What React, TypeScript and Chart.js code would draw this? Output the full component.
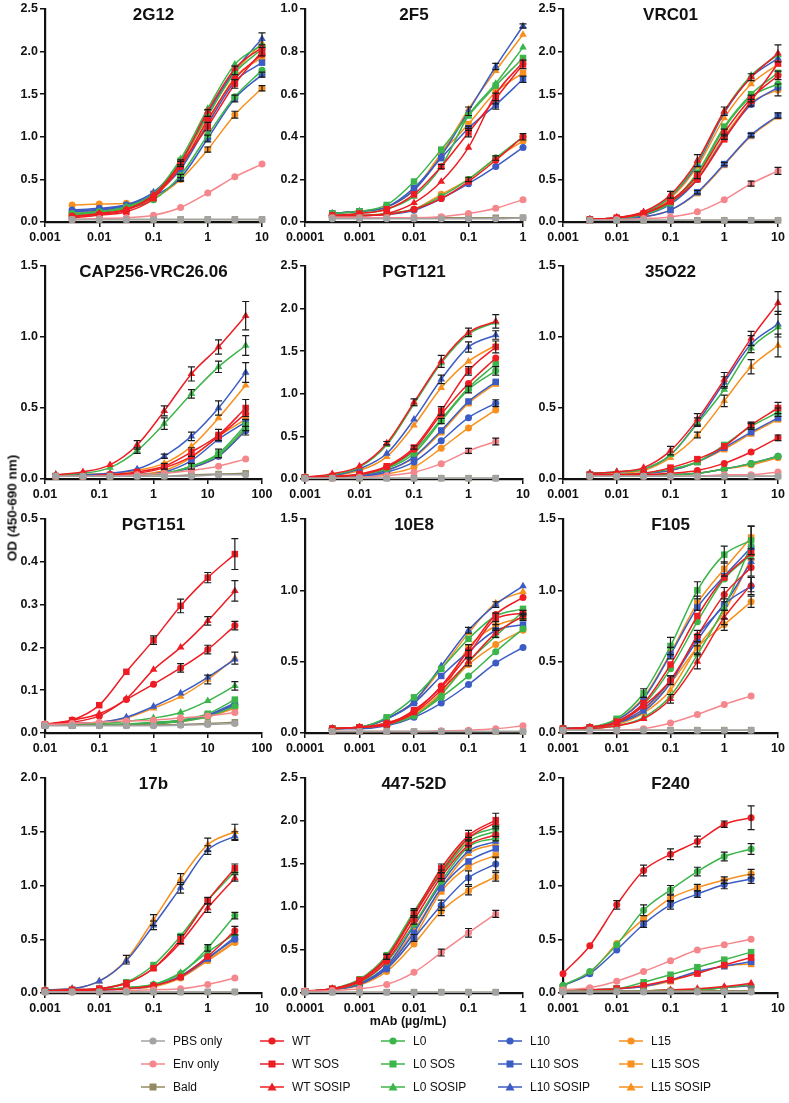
import React, { useEffect, useRef } from "react";
import { Chart, registerables } from "chart.js";
Chart.register(...registerables);

// ---------- series ----------
const SERIES = [
  "PBS only", "Env only", "Bald",
  "WT", "WT SOS", "WT SOSIP",
  "L0", "L0 SOS", "L0 SOSIP",
  "L10", "L10 SOS", "L10 SOSIP",
  "L15", "L15 SOS", "L15 SOSIP",
];

// ---------- concentrations (µg/mL) ----------
const X_A = [0.00316, 0.01, 0.0316, 0.1, 0.316, 1, 3.16, 10];
const X_B = [0.000316, 0.001, 0.00316, 0.01, 0.0316, 0.1, 0.316, 1];
const X_C = [0.0158, 0.05, 0.158, 0.5, 1.58, 5, 15.8, 50];
const X_D = [0.001, 0.00316, 0.01, 0.0316, 0.1, 0.316, 1, 3.16];
const X_E = [0.01, 0.0316, 0.1, 0.316, 1, 3.16, 10, 31.6];
const X_F = [0.0001, 0.000316, 0.001, 0.00316, 0.01, 0.0316, 0.1, 0.316];

// ---------- x tick labels ----------
const XT_1 = [0.001, 0.01, 0.1, 1, 10];
const XT_2 = [0.0001, 0.001, 0.01, 0.1, 1];
const XT_3 = [0.01, 0.1, 1, 10, 100];

// ---------- OD values ----------
const V_2G12: Record<string, number[]> = {
  "PBS only": [0.03, 0.03, 0.03, 0.03, 0.03, 0.03, 0.03, 0.03],
  "Env only": [0.03, 0.04, 0.05, 0.08, 0.17, 0.34, 0.53, 0.68],
  "Bald": [0.03, 0.03, 0.03, 0.03, 0.03, 0.03, 0.03, 0.03],
  "WT": [0.07, 0.09, 0.14, 0.30, 0.65, 1.20, 1.68, 1.97],
  "WT SOS": [0.05, 0.08, 0.12, 0.28, 0.68, 1.12, 1.62, 2.00],
  "WT SOSIP": [0.06, 0.10, 0.15, 0.32, 0.70, 1.30, 1.80, 2.05],
  "L0": [0.10, 0.12, 0.16, 0.26, 0.55, 1.02, 1.47, 1.78],
  "L0 SOS": [0.08, 0.11, 0.17, 0.30, 0.72, 1.25, 1.75, 2.03],
  "L0 SOSIP": [0.09, 0.12, 0.18, 0.33, 0.74, 1.33, 1.85, 2.08],
  "L10": [0.14, 0.16, 0.20, 0.30, 0.52, 0.98, 1.45, 1.73],
  "L10 SOS": [0.12, 0.14, 0.19, 0.33, 0.62, 1.15, 1.65, 1.87],
  "L10 SOSIP": [0.13, 0.15, 0.20, 0.35, 0.70, 1.28, 1.78, 2.15],
  "L15": [0.20, 0.21, 0.22, 0.28, 0.50, 0.85, 1.26, 1.57],
  "L15 SOS": [0.10, 0.12, 0.16, 0.30, 0.63, 1.17, 1.70, 1.93],
  "L15 SOSIP": [0.11, 0.13, 0.18, 0.32, 0.68, 1.25, 1.76, 2.10],
};
const E_2G12: Record<string, number[]> = {
  "L10 SOSIP": [0, 0, 0, 0, 0.03, 0.04, 0.05, 0.07],
  "L15": [0, 0, 0, 0, 0.02, 0.03, 0.04, 0.03],
  "L10": [0, 0, 0, 0, 0.04, 0.04, 0.04, 0.03],
  "WT SOS": [0, 0, 0, 0, 0.03, 0.05, 0.05, 0.05],
};

const V_2F5: Record<string, number[]> = {
  "PBS only": [0.015, 0.015, 0.015, 0.015, 0.015, 0.015, 0.015, 0.02],
  "Env only": [0.02, 0.02, 0.02, 0.02, 0.025, 0.04, 0.065, 0.105],
  "Bald": [0.02, 0.02, 0.02, 0.02, 0.02, 0.02, 0.02, 0.02],
  "WT": [0.03, 0.03, 0.035, 0.06, 0.11, 0.19, 0.29, 0.40],
  "WT SOS": [0.03, 0.04, 0.06, 0.13, 0.26, 0.42, 0.58, 0.74],
  "WT SOSIP": [0.03, 0.03, 0.04, 0.09, 0.19, 0.35, 0.60, 0.75],
  "L0": [0.03, 0.03, 0.04, 0.06, 0.12, 0.20, 0.30, 0.40],
  "L0 SOS": [0.04, 0.05, 0.08, 0.19, 0.34, 0.50, 0.64, 0.77],
  "L0 SOSIP": [0.03, 0.04, 0.06, 0.12, 0.26, 0.50, 0.65, 0.82],
  "L10": [0.03, 0.03, 0.035, 0.055, 0.11, 0.18, 0.26, 0.35],
  "L10 SOS": [0.04, 0.05, 0.07, 0.16, 0.30, 0.44, 0.55, 0.67],
  "L10 SOSIP": [0.04, 0.05, 0.07, 0.15, 0.31, 0.52, 0.73, 0.92],
  "L15": [0.03, 0.03, 0.04, 0.06, 0.13, 0.20, 0.30, 0.38],
  "L15 SOS": [0.04, 0.05, 0.07, 0.15, 0.32, 0.46, 0.61, 0.70],
  "L15 SOSIP": [0.04, 0.05, 0.07, 0.15, 0.32, 0.53, 0.71, 0.88],
};
const E_2F5: Record<string, number[]> = {
  "L10 SOSIP": [0, 0, 0, 0, 0, 0.02, 0.015, 0.01],
  "WT SOS": [0, 0, 0, 0, 0.01, 0.02, 0.025, 0.02],
  "L10 SOS": [0, 0, 0, 0, 0, 0.01, 0.02, 0.015],
  "L0": [0, 0, 0, 0, 0, 0.01, 0.01, 0.015],
};

const V_VRC01: Record<string, number[]> = {
  "PBS only": [0.02, 0.02, 0.02, 0.02, 0.02, 0.02, 0.02, 0.02],
  "Env only": [0.02, 0.03, 0.04, 0.06, 0.12, 0.26, 0.45, 0.60],
  "Bald": [0.02, 0.02, 0.02, 0.02, 0.02, 0.02, 0.02, 0.02],
  "WT": [0.03, 0.05, 0.10, 0.25, 0.55, 1.05, 1.45, 1.72],
  "WT SOS": [0.03, 0.05, 0.10, 0.24, 0.50, 0.97, 1.42, 1.86],
  "WT SOSIP": [0.03, 0.05, 0.12, 0.32, 0.72, 1.30, 1.70, 1.98],
  "L0": [0.03, 0.04, 0.09, 0.22, 0.55, 1.10, 1.47, 1.62],
  "L0 SOS": [0.03, 0.04, 0.09, 0.23, 0.58, 1.12, 1.50, 1.75],
  "L0 SOSIP": [0.03, 0.05, 0.11, 0.30, 0.70, 1.30, 1.72, 1.96],
  "L10": [0.03, 0.04, 0.08, 0.21, 0.50, 0.98, 1.38, 1.58],
  "L10 SOS": [0.02, 0.03, 0.06, 0.14, 0.35, 0.68, 1.02, 1.25],
  "L10 SOSIP": [0.03, 0.05, 0.11, 0.30, 0.68, 1.28, 1.70, 1.92],
  "L15": [0.03, 0.04, 0.08, 0.22, 0.52, 1.00, 1.40, 1.55],
  "L15 SOS": [0.02, 0.03, 0.06, 0.14, 0.34, 0.67, 1.01, 1.24],
  "L15 SOSIP": [0.03, 0.05, 0.10, 0.28, 0.65, 1.22, 1.62, 1.85],
};
const E_VRC01: Record<string, number[]> = {
  "WT SOSIP": [0, 0, 0, 0.04, 0.07, 0.05, 0.04, 0.10],
  "L15": [0, 0, 0, 0, 0, 0.03, 0.04, 0.07],
  "Env only": [0, 0, 0, 0, 0, 0, 0.03, 0.04],
  "L10 SOS": [0, 0, 0, 0, 0.02, 0.02, 0.02, 0.03],
  "WT": [0, 0, 0, 0, 0.04, 0.04, 0.04, 0.05],
};

const V_CAP256: Record<string, number[]> = {
  "PBS only": [0.02, 0.02, 0.02, 0.02, 0.02, 0.02, 0.03, 0.03],
  "Env only": [0.02, 0.02, 0.02, 0.03, 0.04, 0.06, 0.09, 0.14],
  "Bald": [0.02, 0.02, 0.02, 0.02, 0.02, 0.03, 0.035, 0.04],
  "WT": [0.02, 0.02, 0.03, 0.04, 0.08, 0.16, 0.30, 0.46],
  "WT SOS": [0.02, 0.02, 0.03, 0.05, 0.09, 0.19, 0.31, 0.50],
  "WT SOSIP": [0.03, 0.05, 0.10, 0.24, 0.48, 0.74, 0.93, 1.15],
  "L0": [0.02, 0.02, 0.02, 0.03, 0.04, 0.09, 0.17, 0.36],
  "L0 SOS": [0.02, 0.02, 0.02, 0.03, 0.04, 0.09, 0.18, 0.38],
  "L0 SOSIP": [0.03, 0.04, 0.08, 0.20, 0.39, 0.60, 0.79, 0.94],
  "L10": [0.02, 0.02, 0.02, 0.03, 0.04, 0.08, 0.16, 0.34],
  "L10 SOS": [0.02, 0.02, 0.02, 0.03, 0.05, 0.13, 0.28, 0.40],
  "L10 SOSIP": [0.03, 0.03, 0.04, 0.07, 0.16, 0.30, 0.50, 0.75],
  "L15": [0.02, 0.02, 0.02, 0.03, 0.04, 0.08, 0.16, 0.35],
  "L15 SOS": [0.02, 0.02, 0.02, 0.03, 0.06, 0.15, 0.30, 0.42],
  "L15 SOSIP": [0.02, 0.03, 0.04, 0.06, 0.11, 0.23, 0.43, 0.66],
};
const E_CAP256: Record<string, number[]> = {
  "WT SOSIP": [0, 0, 0, 0.03, 0.035, 0.05, 0.05, 0.10],
  "L0 SOSIP": [0, 0, 0, 0.02, 0.04, 0.03, 0.04, 0.07],
  "L10 SOSIP": [0, 0, 0, 0, 0.015, 0.03, 0.05, 0.07],
  "WT SOS": [0, 0, 0, 0, 0.02, 0.03, 0.04, 0.06],
  "L0 SOS": [0, 0, 0, 0, 0, 0.02, 0.03, 0.04],
  "L10": [0, 0, 0, 0, 0, 0, 0, 0.03],
};

const V_PGT121: Record<string, number[]> = {
  "PBS only": [0.01, 0.01, 0.01, 0.01, 0.01, 0.01, 0.01, 0.01],
  "Env only": [0.01, 0.01, 0.02, 0.04, 0.08, 0.18, 0.33, 0.44],
  "Bald": [0.01, 0.01, 0.01, 0.01, 0.01, 0.01, 0.01, 0.01],
  "WT": [0.02, 0.03, 0.05, 0.14, 0.35, 0.76, 1.12, 1.42],
  "WT SOS": [0.02, 0.03, 0.06, 0.15, 0.37, 0.80, 1.27, 1.55],
  "WT SOSIP": [0.02, 0.06, 0.15, 0.42, 0.90, 1.38, 1.72, 1.85],
  "L0": [0.02, 0.03, 0.05, 0.12, 0.30, 0.68, 1.05, 1.27],
  "L0 SOS": [0.02, 0.03, 0.05, 0.13, 0.33, 0.70, 1.07, 1.35],
  "L0 SOSIP": [0.02, 0.05, 0.14, 0.40, 0.88, 1.36, 1.70, 1.84],
  "L10": [0.02, 0.02, 0.03, 0.08, 0.20, 0.45, 0.72, 0.89],
  "L10 SOS": [0.02, 0.02, 0.04, 0.10, 0.26, 0.57, 0.91, 1.14],
  "L10 SOSIP": [0.02, 0.04, 0.12, 0.30, 0.70, 1.17, 1.55, 1.69],
  "L15": [0.02, 0.02, 0.03, 0.06, 0.14, 0.36, 0.60, 0.81],
  "L15 SOS": [0.02, 0.02, 0.04, 0.10, 0.25, 0.55, 0.89, 1.12],
  "L15 SOSIP": [0.02, 0.04, 0.10, 0.26, 0.63, 1.07, 1.38, 1.57],
};
const E_PGT121: Record<string, number[]> = {
  "WT SOSIP": [0, 0, 0, 0.02, 0.04, 0.07, 0.05, 0.08],
  "L10 SOSIP": [0, 0, 0, 0, 0, 0.05, 0.06, 0.05],
  "WT SOS": [0, 0, 0, 0, 0.02, 0.05, 0.05, 0.07],
  "L10": [0, 0, 0, 0, 0, 0, 0, 0.04],
  "Env only": [0, 0, 0, 0, 0, 0, 0.03, 0.04],
  "L0": [0, 0, 0, 0, 0, 0.03, 0.04, 0.05],
};

const V_35O22: Record<string, number[]> = {
  "PBS only": [0.02, 0.02, 0.02, 0.02, 0.02, 0.02, 0.02, 0.02],
  "Env only": [0.02, 0.02, 0.02, 0.02, 0.02, 0.03, 0.03, 0.05],
  "Bald": [0.02, 0.02, 0.02, 0.02, 0.02, 0.02, 0.02, 0.02],
  "WT": [0.02, 0.03, 0.03, 0.04, 0.06, 0.11, 0.19, 0.29],
  "WT SOS": [0.03, 0.03, 0.04, 0.08, 0.14, 0.23, 0.38, 0.50],
  "WT SOSIP": [0.04, 0.05, 0.08, 0.20, 0.42, 0.70, 0.99, 1.24],
  "L0": [0.02, 0.02, 0.03, 0.03, 0.04, 0.07, 0.11, 0.16],
  "L0 SOS": [0.03, 0.03, 0.04, 0.07, 0.12, 0.24, 0.37, 0.47],
  "L0 SOSIP": [0.04, 0.05, 0.07, 0.17, 0.39, 0.63, 0.92, 1.07],
  "L10": [0.02, 0.02, 0.03, 0.03, 0.04, 0.07, 0.11, 0.16],
  "L10 SOS": [0.03, 0.03, 0.04, 0.06, 0.12, 0.22, 0.33, 0.43],
  "L10 SOSIP": [0.04, 0.05, 0.07, 0.17, 0.40, 0.68, 0.95, 1.09],
  "L15": [0.02, 0.02, 0.03, 0.03, 0.04, 0.07, 0.10, 0.15],
  "L15 SOS": [0.03, 0.03, 0.04, 0.06, 0.12, 0.21, 0.32, 0.42],
  "L15 SOSIP": [0.03, 0.04, 0.06, 0.15, 0.31, 0.55, 0.79, 0.94],
};
const E_35O22: Record<string, number[]> = {
  "WT SOSIP": [0, 0, 0, 0.03, 0.04, 0.05, 0.05, 0.08],
  "L10 SOSIP": [0, 0, 0, 0, 0.03, 0.04, 0.06, 0.09],
  "L15 SOSIP": [0, 0, 0, 0, 0.02, 0.04, 0.05, 0.08],
  "WT SOS": [0, 0, 0, 0, 0, 0, 0.02, 0.04],
  "L0 SOS": [0, 0, 0, 0, 0, 0, 0.02, 0.03],
  "WT": [0, 0, 0, 0, 0, 0, 0, 0.02],
};

const V_PGT151: Record<string, number[]> = {
  "PBS only": [0.017, 0.017, 0.017, 0.017, 0.017, 0.018, 0.02, 0.022],
  "Env only": [0.02, 0.022, 0.025, 0.028, 0.03, 0.035, 0.04, 0.048],
  "Bald": [0.018, 0.018, 0.018, 0.018, 0.019, 0.02, 0.022, 0.025],
  "WT": [0.02, 0.025, 0.04, 0.078, 0.114, 0.152, 0.195, 0.251],
  "WT SOS": [0.02, 0.03, 0.065, 0.143, 0.217, 0.297, 0.363, 0.418],
  "WT SOSIP": [0.02, 0.03, 0.045, 0.08, 0.148, 0.20, 0.262, 0.332],
  "L0": [0.018, 0.018, 0.019, 0.02, 0.022, 0.027, 0.038, 0.062],
  "L0 SOS": [0.018, 0.018, 0.02, 0.021, 0.025, 0.03, 0.045, 0.078],
  "L0 SOSIP": [0.02, 0.02, 0.022, 0.027, 0.035, 0.048, 0.075, 0.11],
  "L10": [0.018, 0.018, 0.019, 0.02, 0.022, 0.028, 0.04, 0.066],
  "L10 SOS": [0.018, 0.018, 0.019, 0.02, 0.023, 0.03, 0.042, 0.07],
  "L10 SOSIP": [0.02, 0.022, 0.025, 0.037, 0.062, 0.093, 0.13, 0.172],
  "L15": [0.018, 0.018, 0.019, 0.02, 0.022, 0.027, 0.038, 0.058],
  "L15 SOS": [0.018, 0.018, 0.019, 0.02, 0.023, 0.029, 0.04, 0.065],
  "L15 SOSIP": [0.02, 0.022, 0.025, 0.035, 0.058, 0.085, 0.125, 0.175],
};
const E_PGT151: Record<string, number[]> = {
  "WT SOS": [0, 0, 0, 0, 0.01, 0.016, 0.012, 0.036],
  "WT SOSIP": [0, 0, 0, 0, 0, 0, 0.01, 0.024],
  "WT": [0, 0, 0, 0, 0, 0.01, 0.01, 0.01],
  "L15 SOSIP": [0, 0, 0, 0, 0, 0, 0.01, 0.014],
  "L0 SOSIP": [0, 0, 0, 0, 0, 0, 0, 0.01],
};

const V_10E8: Record<string, number[]> = {
  "PBS only": [0.01, 0.01, 0.01, 0.01, 0.01, 0.01, 0.01, 0.01],
  "Env only": [0.01, 0.01, 0.01, 0.01, 0.015, 0.02, 0.03, 0.05],
  "Bald": [0.01, 0.01, 0.01, 0.01, 0.01, 0.01, 0.01, 0.01],
  "WT": [0.03, 0.04, 0.07, 0.15, 0.33, 0.58, 0.83, 0.95],
  "WT SOS": [0.03, 0.04, 0.06, 0.16, 0.32, 0.55, 0.80, 0.84],
  "WT SOSIP": [0.03, 0.04, 0.06, 0.14, 0.30, 0.50, 0.70, 0.82],
  "L0": [0.03, 0.04, 0.06, 0.12, 0.25, 0.40, 0.57, 0.73],
  "L0 SOS": [0.03, 0.04, 0.11, 0.25, 0.45, 0.66, 0.82, 0.87],
  "L0 SOSIP": [0.03, 0.04, 0.06, 0.12, 0.27, 0.50, 0.68, 0.85],
  "L10": [0.03, 0.03, 0.05, 0.11, 0.21, 0.34, 0.49, 0.60],
  "L10 SOS": [0.03, 0.04, 0.10, 0.21, 0.40, 0.57, 0.72, 0.76],
  "L10 SOSIP": [0.03, 0.04, 0.10, 0.22, 0.47, 0.72, 0.90, 1.03],
  "L15": [0.03, 0.04, 0.06, 0.13, 0.28, 0.48, 0.62, 0.72],
  "L15 SOS": [0.03, 0.04, 0.07, 0.14, 0.28, 0.60, 0.75, 0.81],
  "L15 SOSIP": [0.03, 0.04, 0.10, 0.22, 0.45, 0.70, 0.91, 0.99],
};
const E_10E8: Record<string, number[]> = {
  "L10 SOSIP": [0, 0, 0, 0, 0, 0.02, 0.02, 0],
  "WT SOS": [0, 0, 0, 0, 0, 0.03, 0.04, 0.02],
  "L15 SOS": [0, 0, 0, 0, 0, 0.02, 0.03, 0.02],
  "WT SOSIP": [0, 0, 0, 0, 0, 0.03, 0.03, 0.02],
};

const V_F105: Record<string, number[]> = {
  "PBS only": [0.02, 0.02, 0.02, 0.02, 0.02, 0.02, 0.02, 0.02],
  "Env only": [0.02, 0.02, 0.02, 0.03, 0.07, 0.13, 0.20, 0.26],
  "Bald": [0.02, 0.02, 0.02, 0.02, 0.02, 0.02, 0.02, 0.02],
  "WT": [0.03, 0.04, 0.07, 0.19, 0.37, 0.68, 0.97, 1.16],
  "WT SOS": [0.03, 0.04, 0.08, 0.21, 0.48, 0.82, 1.09, 1.26],
  "WT SOSIP": [0.02, 0.03, 0.05, 0.10, 0.24, 0.50, 0.81, 1.04],
  "L0": [0.03, 0.04, 0.08, 0.20, 0.45, 0.78, 1.08, 1.25],
  "L0 SOS": [0.03, 0.04, 0.10, 0.28, 0.61, 1.00, 1.25, 1.35],
  "L0 SOSIP": [0.02, 0.03, 0.05, 0.11, 0.26, 0.55, 0.88, 1.32],
  "L10": [0.03, 0.04, 0.07, 0.17, 0.37, 0.65, 0.90, 1.03],
  "L10 SOS": [0.03, 0.04, 0.09, 0.24, 0.55, 0.88, 1.10, 1.30],
  "L10 SOSIP": [0.03, 0.04, 0.07, 0.15, 0.35, 0.68, 0.90, 1.20],
  "L15": [0.03, 0.04, 0.07, 0.16, 0.35, 0.60, 0.76, 0.92],
  "L15 SOS": [0.03, 0.04, 0.09, 0.25, 0.56, 0.91, 1.15, 1.37],
  "L15 SOSIP": [0.03, 0.04, 0.06, 0.14, 0.30, 0.60, 0.85, 1.22],
};
const E_F105: Record<string, number[]> = {
  "L0 SOS": [0, 0, 0, 0.03, 0.06, 0.06, 0.06, 0.10],
  "L15 SOS": [0, 0, 0, 0, 0.04, 0.05, 0.05, 0.08],
  "WT SOSIP": [0, 0, 0, 0, 0.03, 0.05, 0.05, 0.05],
  "L15": [0, 0, 0, 0, 0, 0.04, 0.04, 0.04],
  "L10": [0, 0, 0, 0, 0.03, 0.04, 0.04, 0.06],
  "WT": [0, 0, 0, 0, 0.03, 0.04, 0.05, 0.06],
};

const V_17b: Record<string, number[]> = {
  "PBS only": [0.01, 0.01, 0.01, 0.01, 0.01, 0.01, 0.01, 0.01],
  "Env only": [0.01, 0.01, 0.01, 0.02, 0.03, 0.04, 0.08, 0.14],
  "Bald": [0.01, 0.01, 0.01, 0.01, 0.01, 0.01, 0.01, 0.01],
  "WT": [0.02, 0.02, 0.03, 0.04, 0.07, 0.15, 0.34, 0.58],
  "WT SOS": [0.02, 0.03, 0.04, 0.09, 0.23, 0.50, 0.86, 1.16],
  "WT SOSIP": [0.02, 0.03, 0.04, 0.09, 0.23, 0.47, 0.79, 1.07],
  "L0": [0.02, 0.02, 0.03, 0.05, 0.08, 0.18, 0.42, 0.72],
  "L0 SOS": [0.02, 0.03, 0.04, 0.10, 0.26, 0.53, 0.86, 1.13],
  "L0 SOSIP": [0.02, 0.02, 0.03, 0.05, 0.08, 0.19, 0.38, 0.55],
  "L10": [0.02, 0.02, 0.03, 0.04, 0.07, 0.16, 0.33, 0.50],
  "L10 SOS": [0.02, 0.02, 0.03, 0.04, 0.07, 0.15, 0.32, 0.52],
  "L10 SOSIP": [0.03, 0.04, 0.11, 0.30, 0.63, 0.98, 1.33, 1.46],
  "L15": [0.02, 0.02, 0.03, 0.04, 0.06, 0.14, 0.30, 0.47],
  "L15 SOS": [0.02, 0.02, 0.03, 0.04, 0.06, 0.15, 0.31, 0.48],
  "L15 SOSIP": [0.03, 0.04, 0.11, 0.31, 0.68, 1.06, 1.38, 1.50],
};
const E_17b: Record<string, number[]> = {
  "L15 SOSIP": [0, 0, 0, 0.04, 0.05, 0.05, 0.06, 0.07],
  "L10 SOSIP": [0, 0, 0, 0, 0.04, 0.05, 0.04, 0.04],
  "WT SOS": [0, 0, 0, 0, 0, 0.04, 0.03, 0.04],
  "WT SOSIP": [0, 0, 0, 0, 0, 0, 0.04, 0.03],
  "L0": [0, 0, 0, 0, 0, 0, 0.03, 0.03],
  "WT": [0, 0, 0, 0, 0, 0, 0, 0.04],
};

const V_447: Record<string, number[]> = {
  "PBS only": [0.01, 0.01, 0.01, 0.01, 0.01, 0.01, 0.01, 0.01],
  "Env only": [0.02, 0.03, 0.05, 0.10, 0.24, 0.47, 0.70, 0.92],
  "Bald": [0.01, 0.01, 0.01, 0.01, 0.01, 0.01, 0.01, 0.01],
  "WT": [0.02, 0.04, 0.13, 0.37, 0.85, 1.35, 1.72, 1.84],
  "WT SOS": [0.02, 0.05, 0.15, 0.42, 0.92, 1.45, 1.83, 2.01],
  "WT SOSIP": [0.02, 0.05, 0.14, 0.40, 0.90, 1.40, 1.80, 1.98],
  "L0": [0.02, 0.04, 0.12, 0.36, 0.80, 1.30, 1.70, 1.80],
  "L0 SOS": [0.02, 0.05, 0.16, 0.44, 0.95, 1.42, 1.80, 1.92],
  "L0 SOSIP": [0.02, 0.05, 0.15, 0.42, 0.93, 1.38, 1.76, 1.88],
  "L10": [0.02, 0.04, 0.10, 0.28, 0.64, 1.02, 1.34, 1.50],
  "L10 SOS": [0.02, 0.04, 0.10, 0.30, 0.70, 1.22, 1.53, 1.68],
  "L10 SOSIP": [0.02, 0.04, 0.11, 0.32, 0.78, 1.27, 1.65, 1.76],
  "L15": [0.02, 0.04, 0.09, 0.25, 0.57, 0.95, 1.19, 1.35],
  "L15 SOS": [0.02, 0.04, 0.10, 0.28, 0.65, 1.18, 1.47, 1.60],
  "L15 SOSIP": [0.02, 0.04, 0.11, 0.31, 0.73, 1.22, 1.62, 1.73],
};
const E_447: Record<string, number[]> = {
  "WT SOS": [0, 0, 0, 0.03, 0.04, 0.05, 0.06, 0.08],
  "L0 SOSIP": [0, 0, 0, 0.03, 0.05, 0.05, 0.05, 0.06],
  "L10": [0, 0, 0, 0, 0.04, 0.06, 0.08, 0.08],
  "L15": [0, 0, 0, 0, 0, 0.05, 0.05, 0.05],
  "Env only": [0, 0, 0, 0, 0, 0.04, 0.05, 0.04],
  "WT": [0, 0, 0, 0, 0.05, 0.05, 0.06, 0.07],
};

const V_F240: Record<string, number[]> = {
  "PBS only": [0.01, 0.01, 0.01, 0.01, 0.01, 0.01, 0.01, 0.01],
  "Env only": [0.03, 0.05, 0.11, 0.20, 0.30, 0.40, 0.45, 0.50],
  "Bald": [0.02, 0.02, 0.02, 0.02, 0.02, 0.02, 0.02, 0.02],
  "WT": [0.18, 0.44, 0.82, 1.14, 1.29, 1.41, 1.57, 1.63],
  "WT SOS": [0.02, 0.03, 0.04, 0.07, 0.12, 0.18, 0.26, 0.33],
  "WT SOSIP": [0.02, 0.02, 0.02, 0.02, 0.03, 0.04, 0.06, 0.09],
  "L0": [0.07, 0.20, 0.45, 0.77, 0.96, 1.13, 1.27, 1.34],
  "L0 SOS": [0.03, 0.03, 0.04, 0.10, 0.17, 0.24, 0.31, 0.38],
  "L0 SOSIP": [0.02, 0.02, 0.02, 0.02, 0.03, 0.03, 0.05, 0.08],
  "L10": [0.07, 0.18, 0.40, 0.64, 0.82, 0.92, 1.01, 1.06],
  "L10 SOS": [0.02, 0.03, 0.04, 0.06, 0.12, 0.20, 0.25, 0.29],
  "L10 SOSIP": [0.02, 0.02, 0.02, 0.02, 0.02, 0.03, 0.05, 0.07],
  "L15": [0.07, 0.19, 0.46, 0.69, 0.88, 0.98, 1.05, 1.11],
  "L15 SOS": [0.02, 0.03, 0.04, 0.06, 0.11, 0.19, 0.25, 0.27],
  "L15 SOSIP": [0.02, 0.02, 0.02, 0.02, 0.02, 0.03, 0.05, 0.07],
};
const E_F240: Record<string, number[]> = {
  "WT": [0, 0, 0.04, 0.05, 0.05, 0.05, 0.03, 0.11],
  "L0": [0, 0, 0, 0.05, 0.04, 0.04, 0.04, 0.05],
  "L15": [0, 0, 0, 0, 0.03, 0.03, 0.03, 0.04],
  "L10": [0, 0, 0, 0.03, 0.04, 0.03, 0.04, 0.04],
};

// ---------- styles ----------
const RED = "#ee1d23";
const GREEN = "#3cb54a";
const BLUE = "#3b5cc4";
const ORANGE = "#f7901e";
const PINK = "#f5878c";
const GRAY = "#a3a3a3";
const BALD = "#948a62";

function styleFor(name: string): { color: string; shape: "circle" | "rect" | "triangle" } {
  if (name === "PBS only") return { color: GRAY, shape: "circle" };
  if (name === "Env only") return { color: PINK, shape: "circle" };
  if (name === "Bald") return { color: BALD, shape: "rect" };
  const base = name.split(" ")[0];
  const color = base === "WT" ? RED : base === "L0" ? GREEN : base === "L10" ? BLUE : ORANGE;
  const shape = name.endsWith("SOSIP") ? "triangle" : name.endsWith("SOS") ? "rect" : "circle";
  return { color, shape };
}

const FONT = "'Liberation Sans', Arial, Helvetica, sans-serif";

type PanelDef = {
  title: string;
  x: number[];
  xTicks: number[];
  yMax: number;
  yStep: number;
  values: Record<string, number[]>;
  errs: Record<string, number[]>;
};

const PANELS: PanelDef[] = [
  { title: "2G12", x: X_A, xTicks: XT_1, yMax: 2.5, yStep: 0.5, values: V_2G12, errs: E_2G12 },
  { title: "2F5", x: X_B, xTicks: XT_2, yMax: 1.0, yStep: 0.2, values: V_2F5, errs: E_2F5 },
  { title: "VRC01", x: X_A, xTicks: XT_1, yMax: 2.5, yStep: 0.5, values: V_VRC01, errs: E_VRC01 },
  { title: "CAP256-VRC26.06", x: X_C, xTicks: XT_3, yMax: 1.5, yStep: 0.5, values: V_CAP256, errs: E_CAP256 },
  { title: "PGT121", x: X_D, xTicks: XT_1, yMax: 2.5, yStep: 0.5, values: V_PGT121, errs: E_PGT121 },
  { title: "35O22", x: X_A, xTicks: XT_1, yMax: 1.5, yStep: 0.5, values: V_35O22, errs: E_35O22 },
  { title: "PGT151", x: X_E, xTicks: XT_3, yMax: 0.5, yStep: 0.1, values: V_PGT151, errs: E_PGT151 },
  { title: "10E8", x: X_B, xTicks: XT_2, yMax: 1.5, yStep: 0.5, values: V_10E8, errs: E_10E8 },
  { title: "F105", x: X_D, xTicks: XT_1, yMax: 1.5, yStep: 0.5, values: V_F105, errs: E_F105 },
  { title: "17b", x: X_D, xTicks: XT_1, yMax: 2.0, yStep: 0.5, values: V_17b, errs: E_17b },
  { title: "447-52D", x: X_F, xTicks: XT_2, yMax: 2.5, yStep: 0.5, values: V_447, errs: E_447 },
  { title: "F240", x: X_D, xTicks: XT_1, yMax: 2.0, yStep: 0.5, values: V_F240, errs: E_F240 },
];

// ---------- layout ----------
const COL_LEFT = [45, 305, 563];
const COL_W = [217, 218, 215];
const ROW_TOP = [9, 266, 519, 778];
const ROW_H = [213, 213, 214, 215];
const PAD_L = 44;
const PAD_T = 10;
const PAD_R = 14;
const PAD_B = 30;

const errorBarPlugin = {
  id: "errbars",
  afterDatasetsDraw(chart: any) {
    const ctx = chart.ctx;
    const ys = chart.scales.y;
    chart.data.datasets.forEach((ds: any, i: number) => {
      const e: number[] | undefined = ds.errs;
      if (!e) return;
      const meta = chart.getDatasetMeta(i);
      meta.data.forEach((pt: any, j: number) => {
        const d = e[j];
        if (!d) return;
        const v = ds.data[j].y;
        const y1 = ys.getPixelForValue(v + d);
        const y2 = ys.getPixelForValue(Math.max(0, v - d));
        ctx.save();
        ctx.strokeStyle = "#1a1a1a";
        ctx.lineWidth = 1.2;
        ctx.beginPath();
        ctx.moveTo(pt.x, y1);
        ctx.lineTo(pt.x, y2);
        ctx.moveTo(pt.x - 3.5, y1);
        ctx.lineTo(pt.x + 3.5, y1);
        ctx.moveTo(pt.x - 3.5, y2);
        ctx.lineTo(pt.x + 3.5, y2);
        ctx.stroke();
        ctx.restore();
      });
    });
  },
};

const panelTitlePlugin = {
  id: "panelTitle",
  afterDraw(chart: any, _args: any, opts: any) {
    const { ctx, chartArea } = chart;
    ctx.save();
    ctx.fillStyle = "#111";
    ctx.font = `bold 17px ${FONT}`;
    ctx.textAlign = "center";
    ctx.textBaseline = "middle";
    ctx.fillText(opts.text, (chartArea.left + chartArea.right) / 2, chartArea.top + 6);
    ctx.restore();
  },
};

function Panel({ def, col, row }: { def: PanelDef; col: number; row: number }) {
  const ref = useRef<HTMLCanvasElement>(null);
  const w = PAD_L + COL_W[col] + PAD_R;
  const h = PAD_T + ROW_H[row] + PAD_B;
  useEffect(() => {
    if (!ref.current) return;
    const datasets = SERIES.map((name) => {
      const st = styleFor(name);
      const vals = def.values[name];
      const r = st.shape === "circle" ? 3.5 : st.shape === "rect" ? 4.6 : 4.4;
      return {
        label: name,
        data: def.x.map((xv, i) => ({ x: xv, y: vals[i] })),
        errs: def.errs[name],
        borderColor: st.color,
        backgroundColor: st.color,
        borderWidth: 1.5,
        pointStyle: st.shape,
        pointRadius: r,
        pointBorderWidth: 0,
        pointBackgroundColor: st.color,
        cubicInterpolationMode: "monotone" as const,
        showLine: true,
        clip: false as const,
      };
    });
    const xTicks = def.xTicks;
    const chart = new Chart(ref.current, {
      type: "scatter",
      data: { datasets: datasets as any },
      options: {
        animation: false,
        responsive: false,
        maintainAspectRatio: false,
        layout: { padding: { left: 0, top: PAD_T, right: PAD_R, bottom: 0 } },
        plugins: {
          legend: { display: false },
          tooltip: { enabled: false },
          panelTitle: { text: def.title },
        } as any,
        scales: {
          x: {
            type: "logarithmic",
            min: xTicks[0],
            max: xTicks[xTicks.length - 1],
            afterBuildTicks: (scale: any) => {
              scale.ticks = xTicks.map((v) => ({ value: v }));
            },
            afterFit: (scale: any) => {
              scale.height = PAD_B;
            },
            ticks: {
              autoSkip: false,
              maxRotation: 0,
              padding: 3,
              color: "#111",
              font: { family: FONT, size: 12.5, weight: "bold" },
              callback: (v: any) => String(v),
            },
            grid: {
              display: true,
              drawOnChartArea: false,
              drawTicks: true,
              tickLength: 5,
              color: "#111",
              lineWidth: 1.5,
            },
            border: { display: true, color: "#111", width: 2.2 },
          },
          y: {
            type: "linear",
            min: 0,
            max: def.yMax,
            afterFit: (scale: any) => {
              scale.width = PAD_L;
            },
            ticks: {
              stepSize: def.yStep,
              padding: 2,
              color: "#111",
              font: { family: FONT, size: 12.5, weight: "bold" },
              callback: (v: any) => Number(v).toFixed(1),
            },
            grid: {
              display: true,
              drawOnChartArea: false,
              drawTicks: true,
              tickLength: 5,
              color: "#111",
              lineWidth: 1.5,
            },
            border: { display: true, color: "#111", width: 2.2 },
          },
        },
      } as any,
      plugins: [errorBarPlugin, panelTitlePlugin],
    });
    return () => chart.destroy();
  }, [def]);
  return (
    <canvas
      ref={ref}
      width={w}
      height={h}
      style={{
        position: "absolute",
        left: COL_LEFT[col] - PAD_L,
        top: ROW_TOP[row] - PAD_T,
        width: w,
        height: h,
      }}
    />
  );
}

function Marker({ name }: { name: string }) {
  const st = styleFor(name);
  return (
    <svg width={26} height={12} style={{ display: "block" }}>
      <line x1={1} y1={6} x2={25} y2={6} stroke={st.color} strokeWidth={1.5} />
      {st.shape === "circle" && <circle cx={13} cy={6} r={3.6} fill={st.color} />}
      {st.shape === "rect" && <rect x={9.5} y={2.5} width={7} height={7} fill={st.color} />}
      {st.shape === "triangle" && <polygon points="13,1.5 17.5,9.5 8.5,9.5" fill={st.color} />}
    </svg>
  );
}

const LEG_COL_X = [140, 259, 380, 497, 618];
const LEG_ROW_Y = [1041, 1064, 1087];

function Legend() {
  const items: React.ReactNode[] = [];
  SERIES.forEach((name, i) => {
    const c = Math.floor(i / 3);
    const r = i % 3;
    items.push(
      <div
        key={name}
        style={{
          position: "absolute",
          left: LEG_COL_X[c],
          top: LEG_ROW_Y[r] - 8,
          height: 16,
          display: "flex",
          alignItems: "center",
          gap: 7,
          whiteSpace: "nowrap",
          fontFamily: FONT,
          fontSize: 12,
          color: "#111",
        }}
      >
        <Marker name={name} />
        <span>{name}</span>
      </div>
    );
  });
  return <>{items}</>;
}

export default function App() {
  return (
    <div
      style={{
        position: "absolute",
        left: 0,
        top: 0,
        width: 789,
        height: 1103,
        background: "#fff",
        overflow: "hidden",
      }}
    >
      {PANELS.map((def, i) => (
        <Panel key={def.title} def={def} col={i % 3} row={Math.floor(i / 3)} />
      ))}
      <div
        style={{
          position: "absolute",
          left: 12,
          top: 508,
          transform: "translate(-50%, -50%) rotate(-90deg)",
          fontFamily: FONT,
          fontWeight: "bold",
          fontSize: 13.5,
          whiteSpace: "nowrap",
          color: "#111",
        }}
      >
        OD (450-690 nm)
      </div>
      <div
        style={{
          position: "absolute",
          left: 408,
          top: 1021,
          transform: "translate(-50%, -50%)",
          fontFamily: FONT,
          fontWeight: "bold",
          fontSize: 12.5,
          whiteSpace: "nowrap",
          color: "#111",
        }}
      >
        mAb (µg/mL)
      </div>
      <Legend />
    </div>
  );
}
